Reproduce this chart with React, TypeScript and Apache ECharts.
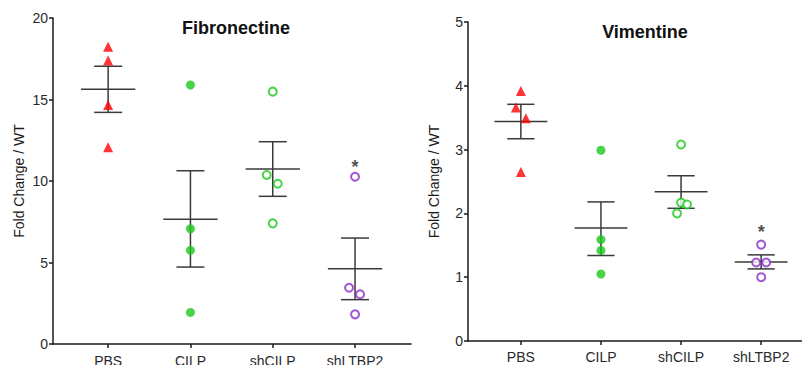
import React, { useEffect, useRef } from "react";
import * as echarts from "echarts";

const categories = ["PBS", "CILP", "shCILP", "shLTBP2"];
const yAxisName = "Fold Change / WT";
const fibTitle = "Fibronectine";
const vimTitle = "Vimentine";

// Fibronectine individual values
const fibPBS = [18.24, 17.4, 14.66, 12.07];
const fibCILP = [15.89, 7.07, 5.75, 1.94];
const fibShCILP = [15.48, 10.37, 9.83, 7.4];
const fibShLTBP2 = [10.26, 3.45, 3.05, 1.82];
const fibMean = [15.63, 7.65, 10.74, 4.62];
const fibSemHigh = [17.04, 10.63, 12.41, 6.5];
const fibSemLow = [14.21, 4.72, 9.06, 2.72];
const fibSignificance = [null, null, null, 11.1];

// Vimentine individual values
const vimPBS = [3.92, 3.66, 3.49, 2.65];
const vimCILP = [2.99, 1.59, 1.42, 1.05];
const vimShCILP = [3.08, 2.17, 2.14, 2.0];
const vimShLTBP2 = [1.51, 1.23, 1.23, 1.0];
const vimMean = [3.44, 1.77, 2.34, 1.24];
const vimSemHigh = [3.71, 2.18, 2.59, 1.35];
const vimSemLow = [3.17, 1.34, 2.08, 1.13];
const vimSignificance = [null, null, null, 1.77];

// horizontal jitter of overlapping points (px)
const fibJitter = [
  [0, 0, 0, 0],
  [0, 0, 0, 0],
  [0, -6, 5, 0],
  [0, -6, 5, 0],
];
const vimJitter = [
  [0, -5, 5, 0],
  [0, 0, 0, 0],
  [0, 0, 6, -4],
  [0, -5, 5, 0],
];

const FONT = "'Liberation Sans', Arial, Helvetica, sans-serif";
const RED = "#ff0000";
const GREEN = "#1cc81c";
const PURPLE = "#8a2ec4";
const groupStyles = [
  { symbol: "triangle", size: 10, itemStyle: { color: RED } },
  { symbol: "circle", size: 9, itemStyle: { color: GREEN } },
  { symbol: "circle", size: 8, itemStyle: { color: "#fff", borderColor: GREEN, borderWidth: 2 } },
  { symbol: "circle", size: 8, itemStyle: { color: "#fff", borderColor: PURPLE, borderWidth: 2 } },
];

function buildSeries(
  gridIdx: number,
  groups: number[][],
  jitter: number[][],
  mean: number[],
  hi: number[],
  lo: number[],
  sig: (number | null)[]
) {
  const series: any[] = [];
  series.push({
    type: "custom",
    xAxisIndex: gridIdx,
    yAxisIndex: gridIdx,
    data: mean.map((m, i) => [i + 1, m, lo[i], hi[i]]),
    renderItem: (params: any, api: any) => {
      const x = api.value(0);
      const unit = api.size([1, 0])[0];
      const pm = api.coord([x, api.value(1)]);
      const pl = api.coord([x, api.value(2)]);
      const ph = api.coord([x, api.value(3)]);
      const mw = unit * 0.33;
      const cw = unit * 0.17;
      const style = { stroke: "#3a3a3a", lineWidth: 1.5 };
      return {
        type: "group",
        children: [
          { type: "line", shape: { x1: pm[0] - mw, y1: pm[1], x2: pm[0] + mw, y2: pm[1] }, style },
          { type: "line", shape: { x1: pl[0], y1: pl[1], x2: ph[0], y2: ph[1] }, style },
          { type: "line", shape: { x1: ph[0] - cw, y1: ph[1], x2: ph[0] + cw, y2: ph[1] }, style },
          { type: "line", shape: { x1: pl[0] - cw, y1: pl[1], x2: pl[0] + cw, y2: pl[1] }, style },
        ],
      };
    },
    z: 1,
  });
  groups.forEach((vals, g) => {
    const st = groupStyles[g];
    series.push({
      type: "scatter",
      xAxisIndex: gridIdx,
      yAxisIndex: gridIdx,
      symbol: st.symbol,
      symbolSize: st.size,
      itemStyle: st.itemStyle,
      data: vals.map((v, k) => ({ value: [g + 1, v], symbolOffset: [jitter[g][k], 0] })),
      z: 3,
    });
  });
  series.push({
    type: "scatter",
    xAxisIndex: gridIdx,
    yAxisIndex: gridIdx,
    symbolSize: 0,
    data: sig
      .map((v, i) => (v == null ? null : [i + 1, v]))
      .filter((d) => d != null),
    label: {
      show: true,
      position: "inside",
      formatter: "*",
      color: "#222",
      fontSize: 18,
      fontWeight: "bold",
      fontFamily: FONT,
      offset: [0, 4],
    },
    z: 4,
  });
  return series;
}

function xAxisCfg(gridIndex: number, min: number, max: number, margin: number) {
  return {
    type: "value",
    gridIndex,
    min,
    max,
    splitLine: { show: false },
    axisLine: { show: true, onZero: false, lineStyle: { color: "#1a1a1a", width: 1.5 } },
    axisTick: { show: true, length: 4, customValues: [1, 2, 3, 4], lineStyle: { color: "#1a1a1a", width: 1.5 } },
    axisLabel: {
      customValues: [1, 2, 3, 4],
      formatter: (v: number) => categories[Math.round(v) - 1] || "",
      color: "#2a2a2a",
      fontSize: 14,
      fontFamily: FONT,
      margin,
    },
  };
}

function yAxisCfg(gridIndex: number, max: number, interval: number) {
  return {
    type: "value",
    gridIndex,
    min: 0,
    max,
    interval,
    name: yAxisName,
    nameLocation: "middle",
    nameGap: 27,
    nameTextStyle: { color: "#1a1a1a", fontSize: 14, fontFamily: FONT },
    splitLine: { show: false },
    axisLine: { show: true, lineStyle: { color: "#1a1a1a", width: 1.5 } },
    axisTick: { show: true, length: 4, lineStyle: { color: "#1a1a1a", width: 1.5 } },
    axisLabel: { color: "#2a2a2a", fontSize: 14, fontFamily: FONT, margin: 5 },
  };
}

export default function App() {
  const ref = useRef<HTMLDivElement>(null);
  useEffect(() => {
    if (!ref.current) return;
    const chart = echarts.init(ref.current, null, { renderer: "svg" });
    const option: any = {
      animation: false,
      backgroundColor: "#ffffff",
      grid: [
        { left: 53, right: 391, top: 18, bottom: 21, containLabel: false, outerBoundsMode: "none" },
        { left: 468, right: 0, top: 22, bottom: 24, containLabel: false, outerBoundsMode: "none" },
      ],
      xAxis: [xAxisCfg(0, 0.33, 4.68, 10), xAxisCfg(1, 0.34, 4.51, 9)],
      yAxis: [yAxisCfg(0, 20, 5), yAxisCfg(1, 5, 1)],
      graphic: [
        {
          type: "text",
          x: 236,
          y: 28,
          style: {
            text: fibTitle,
            fontSize: 18,
            fontWeight: "bold",
            fontFamily: FONT,
            fill: "#111",
            textAlign: "center",
            textVerticalAlign: "middle",
          },
        },
        {
          type: "text",
          x: 645,
          y: 32,
          style: {
            text: vimTitle,
            fontSize: 18,
            fontWeight: "bold",
            fontFamily: FONT,
            fill: "#111",
            textAlign: "center",
            textVerticalAlign: "middle",
          },
        },
      ],
      series: [
        ...buildSeries(0, [fibPBS, fibCILP, fibShCILP, fibShLTBP2], fibJitter, fibMean, fibSemHigh, fibSemLow, fibSignificance),
        ...buildSeries(1, [vimPBS, vimCILP, vimShCILP, vimShLTBP2], vimJitter, vimMean, vimSemHigh, vimSemLow, vimSignificance),
      ],
    };
    chart.setOption(option);
    return () => chart.dispose();
  }, []);
  return (
    <div
      ref={ref}
      style={{ position: "fixed", left: 0, top: 0, width: 802, height: 365, background: "#fff" }}
    />
  );
}
